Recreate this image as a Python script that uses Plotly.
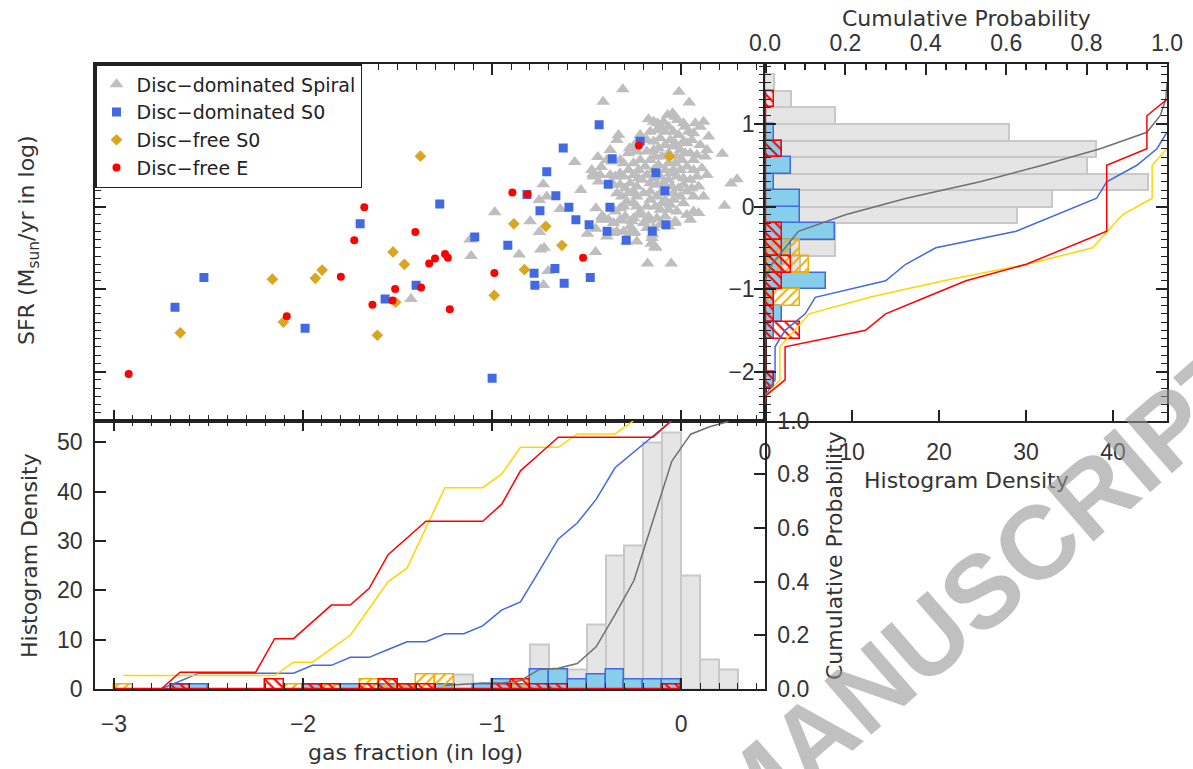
import plotly.graph_objects as go

# ---------------- scatter data: gas fraction (log) vs SFR (log) ----------------
spiral_x = [-1.93, -1.429, -1.116, -1.111, -0.986, -0.857, -0.799, -0.751, -0.711, -0.730,
            -0.750, -0.743, -0.725, -0.704, -0.728, -0.640, -0.563, -0.531, -0.496, -0.452,
            -0.453, -0.414, -0.451, -0.467, -0.423, -0.441, -0.309, -0.012, -0.413, 0.042,
            0.217, 0.295, 0.263, 0.229, -0.312, -0.261, -0.270, -0.247, -0.176, -0.159,
            -0.136, -0.178, -0.053, -0.152, -0.032, 0.048, -0.420,
            -0.173, -0.146, -0.108, -0.072, -0.046, -0.019, 0.021, 0.074, 0.118, 0.145,
            -0.067, -0.085, -0.041, -0.014, 0.039, 0.065, -0.217, -0.164, -0.129, -0.226,
            -0.182, -0.146, -0.111, -0.058, -0.032, 0.012, 0.030, -0.252, -0.273, -0.041,
            -0.005, 0.048, 0.083, 0.127, -0.332, -0.340, -0.376, -0.393, -0.367, -0.323,
            -0.279, -0.235, -0.182, -0.138, -0.102, -0.067, -0.032, 0.004, 0.065, 0.109,
            0.136, 0.083, 0.048, 0.012, -0.023, -0.058, -0.085, -0.120, -0.164, -0.191,
            -0.226, -0.252, -0.279, -0.323, -0.349, -0.376, -0.429, -0.473, -0.464, -0.437,
            -0.358, -0.323, -0.296, -0.270, -0.235, -0.208, -0.164, -0.129, -0.094, -0.049,
            -0.014, 0.030, 0.065, 0.118, 0.056, -0.340, -0.314, -0.279, -0.235, -0.199,
            -0.164, -0.129, -0.085, -0.041, 0.012, 0.065, 0.092, 0.030, -0.023, -0.067,
            -0.111, -0.138, -0.182, -0.217, -0.252, -0.288, -0.323, -0.349, -0.385, -0.420,
            -0.296, -0.252, -0.217, -0.173, -0.129, -0.085, -0.032, -0.146, -0.182, -0.252,
            -0.288, -0.235, -0.305, -0.155, -0.138, -0.270, -0.358, -0.340, -0.393,
            -0.125, -0.094, -0.032, 0.012, 0.100, 0.056, 0.100, 0.136, -0.085, -0.120,
            -0.146, -0.067, -0.023, 0.021, 0.065, 0.030, -0.005, -0.041, -0.146, -0.182,
            -0.217, -0.252, -0.305, -0.305, -0.226, -0.146, -0.111, -0.067, 0.012, 0.092,
            -0.041, -0.005, -0.111, -0.252, -0.305, -0.235, -0.164, -0.102, -0.058, -0.323,
            -0.358, -0.199, -0.111, -0.067, -0.164]
spiral_y = [0.50, -1.12, -0.40, -0.60, -0.07, -0.58, -0.18, 0.08, 0.12, 0.27,
            -0.31, -0.52, -0.50, -0.78, -0.95, -0.03, 0.54, 0.20, -0.33, -0.27,
            -0.55, -0.12, -0.02, 0.39, 0.48, 0.60, 1.42, 1.39, 1.27, 1.26,
            0.64, 0.33, 0.28, 0.01, -0.17, -0.18, -0.32, -0.31, -0.17, -0.45,
            -0.50, -0.69, -0.69, -0.34, -0.18, -0.16, -0.16,
            1.057, 1.028, 0.968, 1.109, 1.129, 1.049, 0.968, 1.008, 1.028, 0.847,
            0.968, 0.907, 0.907, 0.867, 0.907, 0.887, 0.867, 0.907, 0.928, 0.807,
            0.807, 0.787, 0.827, 0.807, 0.766, 0.787, 0.766, 0.726, 0.706, 0.726,
            0.686, 0.645, 0.625, 0.605, 0.867, 0.807, 0.686, 0.565, 0.545, 0.565,
            0.645, 0.666, 0.666, 0.605, 0.605, 0.525, 0.525, 0.565, 0.565, 0.464,
            0.383, 0.363, 0.323, 0.343, 0.363, 0.404, 0.444, 0.504, 0.565, 0.484,
            0.444, 0.383, 0.444, 0.404, 0.363, 0.383, 0.383, 0.444, 0.363, 0.303,
            0.263, 0.263, 0.222, 0.283, 0.242, 0.323, 0.283, 0.263, 0.283, 0.242,
            0.222, 0.182, 0.121, 0.121, 0.222, 0.162, 0.121, 0.162, 0.121, 0.162,
            0.182, 0.121, 0.081, 0.081, 0.041, -0.060, -0.080, -0.100, -0.060, -0.040,
            -0.040, 0.0, 0.0, -0.060, 0.041, 0.061, -0.020, -0.060, -0.161, -0.120,
            -0.120, -0.141, -0.100, -0.120, -0.141, -0.120, -0.201, -0.261, -0.261, -0.322,
            -0.423, -0.423, -0.302, -0.382, -0.483, -0.241, -0.201, -0.302, -0.362,
            1.008, 1.028, 1.089, 1.008, 0.968, 0.807, 0.746, 0.686, 0.746, 0.706,
            0.686, 0.645, 0.605, 0.645, 0.444, 0.484, 0.444, 0.444, 0.444, 0.383,
            0.565, 0.525, 0.525, 0.363, 0.343, 0.343, 0.363, 0.323, 0.263, 0.242,
            0.162, 0.121, 0.162, 0.182, 0.0, 0.0, 0.081, 0.041, 0.021, -0.161,
            -0.322, -0.201, -0.221, -0.241, -0.161]

s0dom_x = [-1.698, -2.524, -1.402, -1.566, -2.677, -1.989, -0.434, -0.624, -0.217, -0.365,
           -0.711, -0.134, -0.386, -0.086, -0.816, -0.663, -1.277, -0.594, -0.377, -0.747,
           -0.557, -0.487, -0.081, -0.392, -0.153, -0.291, -1.092, -0.917, -0.778, -0.668,
           -0.774, -0.619, -0.481, -1.000]
s0dom_y = [-0.21, -0.86, -0.955, -1.12, -1.22, -1.475, 0.99, 0.71, 0.79, 0.58,
           0.42, 0.41, 0.27, 0.19, 0.145, 0.13, 0.03, -0.01, -0.01, -0.05,
           -0.16, -0.22, -0.22, -0.30, -0.30, -0.41, -0.37, -0.47, -0.81, -0.75,
           -0.955, -0.93, -0.86, -2.08]

s0free_x = [-1.379, -1.524, -1.464, -1.899, -1.935, -2.162, -1.510, -2.104, -2.649, -1.607,
            -0.062, -0.885, -0.716, -0.631, -0.829, -0.989]
s0free_y = [0.61, -0.55, -0.70, -0.77, -0.87, -0.88, -1.16, -1.40, -1.53, -1.56,
            0.61, -0.21, -0.24, -0.47, -0.765, -1.076]

ell_x = [-1.676, -1.406, -1.729, -1.333, -1.800, -1.513, -1.376, -1.527, -1.633, -2.086,
         -2.922, -0.224, -0.893, -0.813, -0.519, -1.249, -1.234, -1.302, -0.988, -1.224]
ell_y = [-0.01, -0.31, -0.41, -0.69, -0.85, -1.00, -0.98, -1.14, -1.19, -1.33,
         -2.03, 0.74, 0.17, 0.15, -0.62, -0.575, -0.62, -0.63, -0.805, -1.245]

# ---------------- gas-fraction histograms (bins of 0.1 dex) ----------------
gf_centers = [round(-2.95 + 0.1 * i, 2) for i in range(33)]
gf_spiral = [0, 0, 0, 0, 0, 0, 0, 0, 0, 0, 1, 0, 0, 0, 0, 1, 0, 0, 3, 1, 1, 1, 9, 4, 4, 13, 27, 29, 50, 52, 23, 6, 4]
gf_s0dom = [0, 0, 0, 1, 1, 0, 0, 0, 0, 0, 1, 0, 1, 0, 1, 1, 0, 1, 0, 1, 2, 1, 4, 4, 2, 3, 4, 2, 2, 2, 0, 0, 0]
gf_s0free = [1, 0, 0, 0, 0, 0, 0, 0, 0, 1, 0, 1, 0, 2, 2, 1, 3, 3, 0, 0, 0, 2, 0, 0, 0, 0, 0, 0, 0, 0, 0, 0, 0]
gf_ell = [0, 0, 0, 1, 0, 0, 0, 0, 2, 0, 1, 1, 0, 1, 2, 1, 1, 0, 0, 0, 1, 2, 1, 1, 0, 0, 0, 0, 0, 1, 0, 0, 0]

# cumulative probabilities on the same bin centres
gf_cum_spiral = [None] * 17 + [0.013, 0.017, 0.022, 0.022, 0.031, 0.073, 0.077, 0.095, 0.157, 0.277,
                               0.404, 0.626, 0.848, 0.949, 0.977, 0.996]
gf_cum_s0dom = [None, None, 0.0, 0.029, 0.059, 0.059, 0.059, 0.059, 0.059, 0.059, 0.088, 0.088, 0.118,
                0.118, 0.147, 0.176, 0.176, 0.206, 0.206, 0.235, 0.294, 0.324, 0.441, 0.559, 0.618,
                0.706, 0.824, 0.882, 0.941, 1.0, None, None, None]
gf_cum_s0free = [0.05, 0.05, 0.05, 0.05, 0.05, 0.05, 0.05, 0.05, 0.05, 0.10, 0.10, 0.15, 0.20, 0.30,
                 0.40, 0.45, 0.60, 0.75, 0.75, 0.75, 0.80, 0.90, 0.90, 0.90, 0.95, 0.95, 0.95, 1.0,
                 None, None, None, None, None]
gf_cum_ell = [0.0, 0.0, 0.0, 0.0625, 0.0625, 0.0625, 0.0625, 0.0625, 0.1875, 0.1875, 0.25, 0.3125,
              0.3125, 0.375, 0.5, 0.5625, 0.625, 0.625, 0.625, 0.625, 0.6875, 0.8125, 0.875, 0.9375,
              0.9375, 0.9375, 0.9375, 0.9375, 0.9375, 1.0, None, None, None]

# ---------------- SFR histograms (bins of 0.2 dex) ----------------
sfr_centers = [round(-2.3 + 0.2 * i, 2) for i in range(20)]
sfr_spiral = [0, 0, 0, 0, 0, 0, 0, 0, 4, 8, 8, 29, 33, 44, 37, 38, 28, 8, 3, 1]
sfr_s0dom = [0, 1, 0, 0, 1, 2, 1, 7, 2, 3, 8, 4, 4, 1, 3, 2, 1, 0, 0, 0]
sfr_s0free = [0, 0, 0, 0, 0, 0, 4, 0, 5, 4, 0, 0, 0, 0, 0, 0, 0, 0, 0, 0]
sfr_ell = [0, 1, 0, 0, 4, 1, 1, 2, 3, 2, 2, 0, 0, 0, 0, 2, 0, 0, 1, 0]

sfr_cum_spiral = [None] * 7 + [0.0, 0.017, 0.05, 0.083, 0.20, 0.352, 0.535, 0.69, 0.834, 0.95,
                               0.983, 0.997, 1.0]
sfr_cum_s0dom = [0.0, 0.025, 0.025, 0.025, 0.05, 0.10, 0.125, 0.30, 0.35, 0.425, 0.625, 0.725,
                 0.825, 0.85, 0.925, 0.975, 1.0, None, None, None]
sfr_cum_s0free = [0.0, 0.037, 0.037, 0.037, 0.074, 0.11, 0.26, 0.444, 0.652, 0.815, 0.852, 0.889,
                  0.963, 0.963, 0.963, 1.0, None, None, None, None]
sfr_cum_ell = [0.0, 0.05, 0.05, 0.05, 0.25, 0.30, 0.40, 0.50, 0.65, 0.75, 0.85, 0.85, 0.85, 0.85,
               0.85, 0.95, 0.95, 0.95, 1.0, None]

# ---------------- styling ----------------
GRAY_PT = "#BEBEBE"
BLUE = "#4169E1"
GOLD = "#DAA520"
RED = "#FF0000"
SKY = "#87CEEB"
BAR_GRAY = "#E5E5E5"
BAR_GRAY_EDGE = "#C8C8C8"
YEL_EDGE = "#F0B000"
YEL_LINE = "#FFD700"
CUM_GRAY = "#707070"
INK = "#222222"
TICK_FONT = "Liberation Sans"
TEXT_FONT = "DejaVu Sans"

W, H = 1193, 769
L, M, R = 95, 765, 1167
T, MID, B = 64, 420.5, 689


def fx(p):
    return p / W


def fy(p):
    return 1 - p / H


def nz(vals):
    return [v if v else None for v in vals]


hatch_yel = dict(shape="/", fgcolor=YEL_EDGE, bgcolor="rgba(0,0,0,0)", size=7, solidity=0.28)
hatch_red = dict(shape="\\", fgcolor=RED, bgcolor="rgba(0,0,0,0)", size=7, solidity=0.28)

fig = go.Figure()

# scatter panel
fig.add_trace(go.Scatter(x=spiral_x, y=spiral_y, mode="markers", name="Disc\u2212dominated Spiral",
                         marker=dict(symbol="triangle-up", size=12, color=GRAY_PT)))
fig.add_trace(go.Scatter(x=s0dom_x, y=s0dom_y, mode="markers", name="Disc\u2212dominated S0",
                         marker=dict(symbol="square", size=9, color=BLUE)))
fig.add_trace(go.Scatter(x=s0free_x, y=s0free_y, mode="markers", name="Disc\u2212free S0",
                         marker=dict(symbol="diamond", size=9, color=GOLD)))
fig.add_trace(go.Scatter(x=ell_x, y=ell_y, mode="markers", name="Disc\u2212free E",
                         marker=dict(symbol="circle", size=8, color=RED)))

# bottom panel: gas-fraction histograms
bar_common = dict(xaxis="x4", yaxis="y3", width=0.1, showlegend=False)
fig.add_trace(go.Bar(x=gf_centers, y=nz(gf_spiral), marker=dict(color=BAR_GRAY,
                     line=dict(color=BAR_GRAY_EDGE, width=2)), **bar_common))
fig.add_trace(go.Bar(x=gf_centers, y=nz(gf_s0dom), marker=dict(color=SKY,
                     line=dict(color=BLUE, width=1.5)), **bar_common))
fig.add_trace(go.Bar(x=gf_centers, y=nz(gf_s0free), marker=dict(
    color="rgba(0,0,0,0)", line=dict(color=YEL_EDGE, width=1.5), pattern=hatch_yel), **bar_common))
fig.add_trace(go.Bar(x=gf_centers, y=nz(gf_ell), marker=dict(
    color="rgba(0,0,0,0)", line=dict(color=RED, width=1.5), pattern=hatch_red), **bar_common))
ell_gf_used = [c for c, v in zip(gf_centers, gf_ell) if v]
fig.add_trace(go.Scatter(x=[gf_centers[0] - 0.05, ell_gf_used[-1] + 0.05], y=[0, 0],
                         mode="lines", line=dict(color=RED, width=2.5),
                         xaxis="x4", yaxis="y3", showlegend=False))

line_common = dict(mode="lines", xaxis="x4", yaxis="y4", showlegend=False)
fig.add_trace(go.Scatter(x=gf_centers, y=gf_cum_spiral, line=dict(color=CUM_GRAY, width=1.5), **line_common))
fig.add_trace(go.Scatter(x=gf_centers, y=gf_cum_s0dom, line=dict(color=BLUE, width=1.5), **line_common))
fig.add_trace(go.Scatter(x=gf_centers, y=gf_cum_s0free, line=dict(color=YEL_LINE, width=1.5), **line_common))
fig.add_trace(go.Scatter(x=gf_centers, y=gf_cum_ell, line=dict(color=RED, width=1.5), **line_common))

# right panel: SFR histograms (horizontal)
hbar_common = dict(xaxis="x2", yaxis="y2", width=0.2, orientation="h", showlegend=False)
fig.add_trace(go.Bar(y=sfr_centers, x=nz(sfr_spiral), marker=dict(color=BAR_GRAY,
                     line=dict(color=BAR_GRAY_EDGE, width=2)), **hbar_common))
fig.add_trace(go.Bar(y=sfr_centers, x=nz(sfr_s0dom), marker=dict(color=SKY,
                     line=dict(color=BLUE, width=1.5)), **hbar_common))
fig.add_trace(go.Bar(y=sfr_centers, x=nz(sfr_s0free), marker=dict(
    color="rgba(0,0,0,0)", line=dict(color=YEL_EDGE, width=1.5), pattern=hatch_yel), **hbar_common))
fig.add_trace(go.Bar(y=sfr_centers, x=nz(sfr_ell), marker=dict(
    color="rgba(0,0,0,0)", line=dict(color=RED, width=1.5), pattern=hatch_red), **hbar_common))
ell_sfr_used = [c for c, v in zip(sfr_centers, sfr_ell) if v]
fig.add_trace(go.Scatter(x=[0, 0], y=[sfr_centers[0] - 0.1, ell_sfr_used[-1] + 0.1],
                         mode="lines", line=dict(color=RED, width=2.5),
                         xaxis="x2", yaxis="y2", showlegend=False))

hline_common = dict(mode="lines", xaxis="x3", yaxis="y2", showlegend=False)
fig.add_trace(go.Scatter(y=sfr_centers, x=sfr_cum_spiral, line=dict(color=CUM_GRAY, width=1.5), **hline_common))
fig.add_trace(go.Scatter(y=sfr_centers, x=sfr_cum_s0dom, line=dict(color=BLUE, width=1.5), **hline_common))
fig.add_trace(go.Scatter(y=sfr_centers, x=sfr_cum_s0free, line=dict(color=YEL_LINE, width=1.5), **hline_common))
fig.add_trace(go.Scatter(y=sfr_centers, x=sfr_cum_ell, line=dict(color=RED, width=1.5), **hline_common))

# ---------------- axes ----------------
tick_font = dict(family=TICK_FONT, size=23, color="#333")
base = dict(showline=True, linecolor=INK, linewidth=1.5, ticks="inside", tickcolor=INK,
            tickwidth=1.5, ticklen=11, zeroline=False, showgrid=False, tickfont=tick_font,
            automargin=False)
minor01 = dict(ticks="inside", ticklen=6, tickcolor=INK, tickwidth=1.2, dtick=0.1, showgrid=False)

GF_RANGE = [-3.1, 0.443]
SFR_RANGE = [-2.593, 1.727]

fig.update_layout(
    template="none",
    width=W, height=H, margin=dict(l=0, r=0, t=0, b=0, pad=0),
    paper_bgcolor="white", plot_bgcolor="rgba(0,0,0,0)",
    barmode="overlay", bargap=0,
    font=dict(family=TEXT_FONT, color="#333"),
    xaxis=dict(domain=[fx(L), fx(M)], anchor="y", range=GF_RANGE, dtick=1, showticklabels=False,
               mirror="ticks", minor=minor01, **base),
    yaxis=dict(domain=[fy(MID), fy(T)], anchor="x", range=SFR_RANGE, dtick=1, showticklabels=False,
               mirror="ticks", minor=minor01, **base),
    xaxis2=dict(domain=[fx(M), fx(R)], anchor="y2", range=[0, 46.2], dtick=10,
                ticklabelstandoff=10, **base),
    xaxis3=dict(overlaying="x2", anchor="y2", side="top", range=[0, 1.0], dtick=0.2,
                tickformat=".1f", ticklabelstandoff=2,
                minor=dict(ticks="inside", ticklen=6, tickcolor=INK, dtick=0.05), **base),
    yaxis2=dict(domain=[fy(MID), fy(T)], anchor="x2", range=SFR_RANGE, dtick=1, mirror="ticks",
                minor=minor01, ticklabelstandoff=4, **base),
    xaxis4=dict(domain=[fx(L), fx(M)], anchor="y3", range=GF_RANGE, dtick=1, mirror="ticks",
                minor=minor01, ticklabelstandoff=14, **base),
    yaxis3=dict(domain=[fy(B), fy(MID)], anchor="x4", range=[0, 54.4], dtick=10,
                ticklabelstandoff=6, **base),
    yaxis4=dict(overlaying="y3", anchor="x4", side="right", range=[0, 1.0], dtick=0.2,
                tickformat=".1f", ticklabelstandoff=6, **base),
    legend=dict(x=fx(L), y=fy(T), xanchor="left", yanchor="top", bgcolor="white",
                bordercolor=INK, borderwidth=1.5, font=dict(family=TEXT_FONT, size=19, color="#222"),
                itemsizing="trace"),
)

title_font = dict(family=TEXT_FONT, size=22, color="#333")
titles = [
    ("SFR (M<sub>sun</sub>/yr in log)", 28, 240, -90),
    ("Histogram Density", 29, 556, -90),
    ("Cumulative Probability", 834, 556, -90),
    ("gas fraction (in log)", 415, 752, 0),
    ("Cumulative Probability", 966, 18, 0),
    ("Histogram Density", 966, 480, 0),
]
for text, px, py, ang in titles:
    fig.add_annotation(text=text, x=fx(px), y=fy(py), xref="paper", yref="paper",
                       showarrow=False, textangle=ang, font=title_font,
                       xanchor="center", yanchor="middle")

# diagonal manuscript watermark
fig.add_annotation(text="<b>ACCEPTED MANUSCRIPT</b>", x=fx(755), y=fy(788), xref="paper", yref="paper",
                   showarrow=False, textangle=-41, xanchor="center", yanchor="middle",
                   font=dict(family=TICK_FONT, size=104, color="rgba(150,150,150,0.6)"))

fig.write_html("out.html")
